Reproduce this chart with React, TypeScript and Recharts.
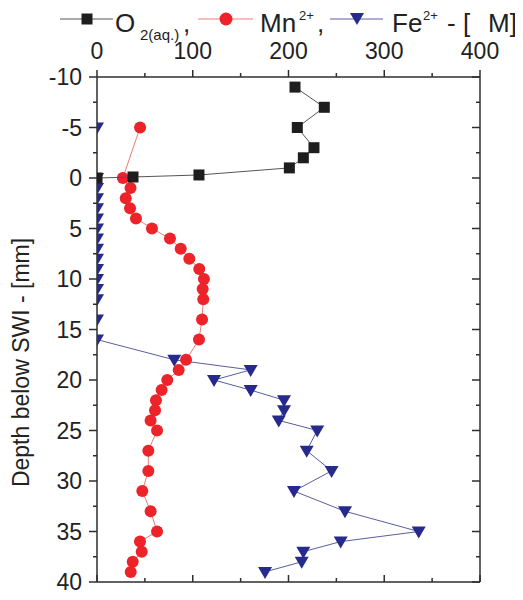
import React from 'react';
import { ScatterChart, Scatter, XAxis, YAxis } from 'recharts';

// ---- data (depth in mm, concentration in µM) ----
const O2_DEPTH = [-9, -7, -5, -3, -2, -1, -0.3, -0.1, 0];
const O2_CONC = [206.8, 237.4, 209.2, 226.6, 215.5, 200.9, 106.5, 37.6, 0];

const MN_DEPTH = [-5, 0, 1, 2, 3, 4, 5, 6, 7, 8, 9, 10, 11, 12, 14, 16, 18, 19, 20, 21, 22, 23, 24, 25, 27, 29, 31, 33, 35, 36, 37, 38, 39];
const MN_CONC = [45, 27, 35, 30, 34.5, 40.7, 57.4, 76.2, 87.4, 96.4, 106.8, 111.7, 110.4, 111, 109.7, 106.5, 93, 85.3, 73.4, 67.5, 61.6, 60.6, 56, 62.7, 53.6, 53.6, 47.3, 56, 62.7, 44.9, 46.7, 37.3, 35.2];

const FE_TOP_DEPTH = [-5];
const FE_TOP_CONC = [0];
const FE_DEPTH = [0, 1, 2, 3, 4, 5, 6, 7, 8, 9, 10, 11, 12, 14, 16, 18, 19, 20, 21, 22, 23, 24, 25, 27, 29, 31, 33, 35, 36, 37, 38, 39];
const FE_CONC = [0, 0, 0, 0, 0, 0, 0, 0, 0, 0, 0, 0, 0, 0, 0, 80.7, 160.5, 122.2, 160.5, 195.3, 195.3, 189.8, 230, 219, 245, 205.7, 259, 336, 254.5, 215.5, 213.8, 175.5];

const X_TICKS = [0, 50, 100, 150, 200, 250, 300, 350, 400];
const X_LABELS = [0, 100, 200, 300, 400];
const Y_TICKS = [-10, -7.5, -5, -2.5, 0, 2.5, 5, 7.5, 10, 12.5, 15, 17.5, 20, 22.5, 25, 27.5, 30, 32.5, 35, 37.5, 40];
const Y_LABELS = [-10, -5, 0, 5, 10, 15, 20, 25, 30, 35, 40];

const toPts = (d: number[], v: number[]) => d.map((dd, i) => ({ d: dd, v: v[i] }));
const o2Data = toPts(O2_DEPTH, O2_CONC);
const mnData = toPts(MN_DEPTH, MN_CONC);
const feData = toPts(FE_DEPTH, FE_CONC);
const feTopData = toPts(FE_TOP_DEPTH, FE_TOP_CONC);

const FONT = '"Liberation Sans", Arial, Helvetica, sans-serif';
const AX = '#2e2e2e';
const TXT = '#222';
const C_O2 = '#1e1e1e';
const C_MN = '#ec2328';
const C_FE = '#262a8c';
const L_O2 = '#555555';
const L_MN = '#f07a7a';
const L_FE = '#5a5e9c';

const isMajorX = (v: number) => X_LABELS.includes(v);
const isMajorY = (v: number) => Y_LABELS.includes(v);

const TopTick = (p: any) => {
  const { x, y, payload } = p;
  const major = isMajorX(payload.value);
  return (
    <g>
      <line x1={x} x2={x} y1={y} y2={y - (major ? 7 : 4)} stroke={AX} strokeWidth={1.5} />
      {major && (
        <text x={x} y={y - 18} textAnchor="middle" fontFamily={FONT} fontSize={23} fill={TXT}>
          {payload.value}
        </text>
      )}
    </g>
  );
};

const BottomTick = (p: any) => {
  const { x, y, payload } = p;
  const major = isMajorX(payload.value);
  return <line x1={x} x2={x} y1={y} y2={y - (major ? 7 : 4)} stroke={AX} strokeWidth={1.5} />;
};

const LeftTick = (p: any) => {
  const { x, y, payload } = p;
  const major = isMajorY(payload.value);
  return (
    <g>
      <line x1={x} x2={x - (major ? 8 : 4)} y1={y} y2={y} stroke={AX} strokeWidth={1.5} />
      {major && (
        <text x={x - 15} y={y} dy="0.36em" textAnchor="end" fontFamily={FONT} fontSize={23} fill={TXT}>
          {payload.value}
        </text>
      )}
    </g>
  );
};

const RightTick = (p: any) => {
  const { x, y, payload } = p;
  const major = isMajorY(payload.value);
  return <line x1={x} x2={x - (major ? 8 : 4)} y1={y} y2={y} stroke={AX} strokeWidth={1.5} />;
};

const YLabel = (p: any) => {
  const vb = p.viewBox || { x: 29, y: 69, width: 60, height: 505 };
  const cx = vb.x - 16;
  const cy = vb.y + vb.height / 2 + 33;
  return (
    <text
      x={cx}
      y={cy}
      transform={`rotate(-90 ${cx} ${cy})`}
      textAnchor="middle"
      dominantBaseline="central"
      fontFamily={FONT}
      fontSize={23}
      fill={TXT}
    >
      Depth below SWI - [mm]
    </text>
  );
};

const Square = (p: any) => <rect x={p.cx - 5.5} y={p.cy - 5.5} width={11} height={11} fill={C_O2} />;
const Dot = (p: any) => <circle cx={p.cx} cy={p.cy} r={6} fill={C_MN} />;
const Tri = (p: any) => (
  <path d={`M${p.cx - 7},${p.cy - 5}L${p.cx + 7},${p.cy - 5}L${p.cx},${p.cy + 7}Z`} fill={C_FE} />
);

const LegendBar = () => (
  <svg width={515} height={45} style={{ position: 'absolute', left: 0, top: 0 }}>
    <line x1={52} x2={105} y1={11} y2={11} stroke={L_O2} strokeWidth={1} />
    <rect x={73.5} y={5.5} width={11} height={11} fill={C_O2} />
    <text x={107} y={24} fontFamily={FONT} fontSize={26} fill={TXT}>O</text>
    <text x={132} y={32} fontFamily={FONT} fontSize={15} fill={TXT}>2(aq.)</text>
    <text x={175} y={24} fontFamily={FONT} fontSize={26} fill={TXT}>,</text>
    <line x1={190} x2={245} y1={11} y2={11} stroke={L_MN} strokeWidth={1} />
    <circle cx={218} cy={11} r={6.5} fill={C_MN} />
    <text x={252} y={24} fontFamily={FONT} fontSize={26} fill={TXT}>Mn</text>
    <text x={291} y={12} fontFamily={FONT} fontSize={13} fill={TXT}>2+</text>
    <text x={309} y={24} fontFamily={FONT} fontSize={26} fill={TXT}>,</text>
    <line x1={322} x2={375} y1={11} y2={11} stroke={L_FE} strokeWidth={1} />
    <path d="M342,5L356,5L349,17Z" fill={C_FE} />
    <text x={384} y={24} fontFamily={FONT} fontSize={26} fill={TXT}>Fe</text>
    <text x={415} y={12} fontFamily={FONT} fontSize={13} fill={TXT}>2+</text>
    <text x={439} y={24} fontFamily={FONT} fontSize={26} fill={TXT}>- [</text>
    <text x={480} y={24} fontFamily={FONT} fontSize={26} fill={TXT}>M]</text>
  </svg>
);

export default function App() {
  return (
    <div style={{ position: 'relative', width: 515, height: 592, background: '#fff' }}>
      <ScatterChart width={515} height={592} margin={{ top: 29, right: 33, bottom: 8, left: 29 }}>
        <XAxis
          xAxisId="top"
          orientation="top"
          type="number"
          dataKey="v"
          domain={[0, 400]}
          ticks={X_TICKS}
          allowDataOverflow
          height={40}
          tickSize={0}
          tickMargin={0}
          tickLine={false}
          tick={<TopTick />}
          axisLine={{ stroke: AX, strokeWidth: 1.5 }}
          interval={0}
        />
        <XAxis
          xAxisId="bot"
          orientation="bottom"
          type="number"
          dataKey="v"
          domain={[0, 400]}
          ticks={X_TICKS}
          allowDataOverflow
          height={10}
          tickSize={0}
          tickMargin={0}
          tickLine={false}
          tick={<BottomTick />}
          axisLine={{ stroke: AX, strokeWidth: 1.5 }}
          interval={0}
        />
        <YAxis
          yAxisId="left"
          orientation="left"
          type="number"
          dataKey="d"
          domain={[-10, 40]}
          ticks={Y_TICKS}
          reversed
          allowDataOverflow
          width={60}
          tickSize={0}
          tickMargin={0}
          tickLine={false}
          tick={<LeftTick />}
          axisLine={{ stroke: AX, strokeWidth: 1.5 }}
          interval={0}
          label={<YLabel />}
        />
        <YAxis
          yAxisId="right"
          orientation="right"
          type="number"
          dataKey="d"
          domain={[-10, 40]}
          ticks={Y_TICKS}
          reversed
          allowDataOverflow
          width={10}
          tickSize={0}
          tickMargin={0}
          tickLine={false}
          tick={<RightTick />}
          axisLine={{ stroke: AX, strokeWidth: 1.5 }}
          interval={0}
        />
        <Scatter
          name="Fe top"
          data={feTopData}
          xAxisId="top"
          yAxisId="left"
          shape={<Tri />}
          isAnimationActive={false}
        />
        <Scatter
          name="Fe"
          data={feData}
          xAxisId="top"
          yAxisId="left"
          line={{ stroke: L_FE, strokeWidth: 1 }}
          shape={<Tri />}
          isAnimationActive={false}
        />
        <Scatter
          name="Mn"
          data={mnData}
          xAxisId="top"
          yAxisId="left"
          line={{ stroke: L_MN, strokeWidth: 1 }}
          shape={<Dot />}
          isAnimationActive={false}
        />
        <Scatter
          name="O2"
          data={o2Data}
          xAxisId="top"
          yAxisId="left"
          line={{ stroke: L_O2, strokeWidth: 1 }}
          shape={<Square />}
          isAnimationActive={false}
        />
      </ScatterChart>
      <LegendBar />
    </div>
  );
}
